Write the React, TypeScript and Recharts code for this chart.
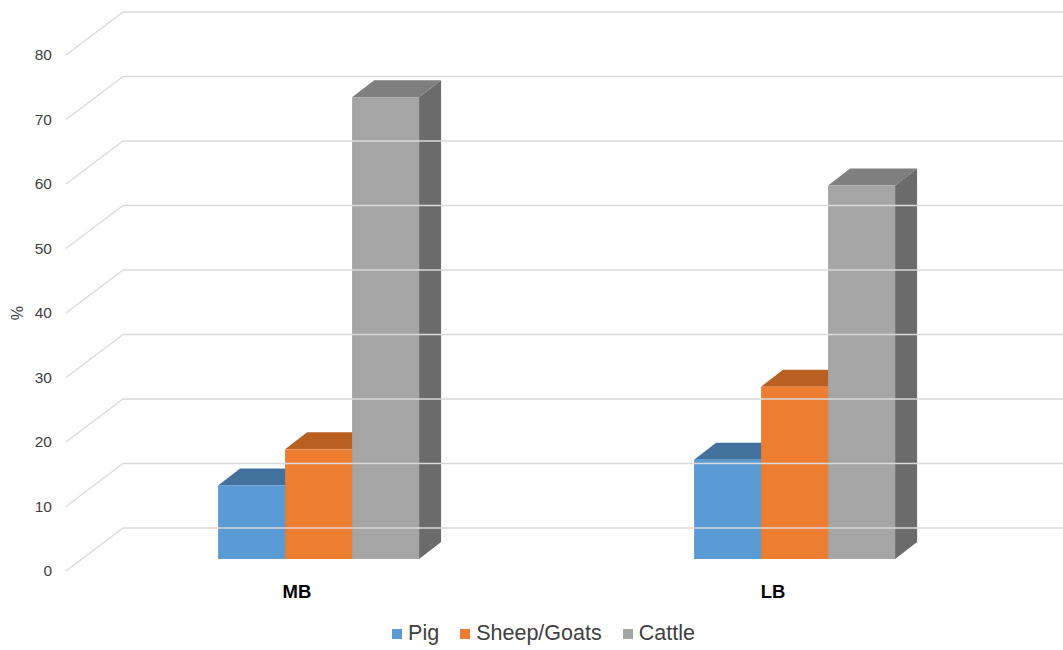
import React from "react";
import { BarChart, Bar, XAxis, YAxis, Legend } from "recharts";

const categories = ["MB", "LB"];
const pig = [11.4, 15.4];
const sheepGoats = [17.0, 26.7];
const cattle = [71.6, 57.9];
const yTicks = [0, 10, 20, 30, 40, 50, 60, 70, 80];

const data = categories.map((c, i) => ({
  name: c,
  pig: pig[i],
  sheep: sheepGoats[i],
  cattle: cattle[i],
}));

const FONT = "'Liberation Sans', Arial, sans-serif";

// bars sit a bit deeper than the axis plane
const SHIFT_X = 22;
const SHIFT_Y = -12;
const DEPTH_X = 22;
const DEPTH_Y = -17;

// back wall offset from front axis plane
const WALL_X = 57;
const WALL_Y = -43;

const make3d = (top: string, side: string) => (props: any) => {
  const { x, y, width, height, fill } = props;
  const fx = x + SHIFT_X;
  const fy = y + SHIFT_Y;
  const topFace = `${fx},${fy} ${fx + DEPTH_X},${fy + DEPTH_Y} ${fx + width + DEPTH_X},${fy + DEPTH_Y} ${fx + width},${fy}`;
  const sideFace = `${fx + width},${fy} ${fx + width + DEPTH_X},${fy + DEPTH_Y} ${fx + width + DEPTH_X},${fy + height + DEPTH_Y} ${fx + width},${fy + height}`;
  return (
    <g>
      <polygon points={sideFace} fill={side} />
      <polygon points={topFace} fill={top} />
      <rect x={fx} y={fy} width={width} height={height} fill={fill} />
    </g>
  );
};

const YTick = (props: any) => {
  const { y, payload } = props;
  return (
    <g>
      <line x1={66} y1={y} x2={66 + WALL_X} y2={y + WALL_Y} stroke="#d9d9d9" strokeWidth={1.3} />
      <line x1={66 + WALL_X} y1={y + WALL_Y} x2={1063} y2={y + WALL_Y} stroke="#d9d9d9" strokeWidth={1.3} />
      <text x={52} y={y} dy={5} textAnchor="end" fontSize={15.5} fill="#404040" fontFamily={FONT}>
        {payload.value}
      </text>
    </g>
  );
};

const XTick = (props: any) => {
  const { x, y, payload } = props;
  return (
    <text x={x} y={y} dy={19} textAnchor="middle" fontSize={18.5} fontWeight="bold" fill="#000" fontFamily={FONT}>
      {payload.value}
    </text>
  );
};

const legendItems = [
  { label: "Pig", color: "#5b9bd5" },
  { label: "Sheep/Goats", color: "#ed7d31" },
  { label: "Cattle", color: "#a5a5a5" },
];

const LegendBox = () => (
  <div style={{ display: "flex", justifyContent: "center", gap: 21, fontFamily: FONT, fontSize: 21.5, color: "#404040", paddingTop: 15, paddingLeft: 76 }}>
    {legendItems.map((it) => (
      <div key={it.label} style={{ display: "flex", alignItems: "center" }}>
        <span style={{ display: "inline-block", width: 10, height: 10, background: it.color, marginRight: 6 }} />
        {it.label}
      </div>
    ))}
  </div>
);

export default function App() {
  return (
    <div style={{ position: "absolute", left: 0, top: 0, background: "#fff" }}>
      <BarChart
        width={1063}
        height={650}
        data={data}
        margin={{ top: 55, right: 52, bottom: 0, left: 0 }}
        barCategoryGap="28.8%"
        barGap={0}
      >
        <YAxis
          domain={[0, 80]}
          ticks={yTicks}
          width={59}
          axisLine={false}
          tickLine={false}
          interval={0}
          tick={<YTick />}
          label={({ viewBox }: any) => (
            <text
              x={18}
              y={viewBox.y + viewBox.height / 2}
              transform={`rotate(-90, 18, ${viewBox.y + viewBox.height / 2})`}
              textAnchor="middle"
              dy={5}
              fontSize={16}
              fill="#404040"
              fontFamily={FONT}
            >
              %
            </text>
          )}
        />
        <XAxis dataKey="name" height={35} axisLine={false} tickLine={false} tick={<XTick />} />
        <Legend verticalAlign="bottom" height={44} content={<LegendBox />} />
        <Bar dataKey="pig" name="Pig" fill="#5b9bd5" shape={make3d("#41719c", "#41719c")} isAnimationActive={false} />
        <Bar dataKey="sheep" name="Sheep/Goats" fill="#ed7d31" shape={make3d("#b95f22", "#b95f22")} isAnimationActive={false} />
        <Bar dataKey="cattle" name="Cattle" fill="#a5a5a5" shape={make3d("#7f7f7f", "#6b6b6b")} isAnimationActive={false} />
      </BarChart>
    </div>
  );
}
